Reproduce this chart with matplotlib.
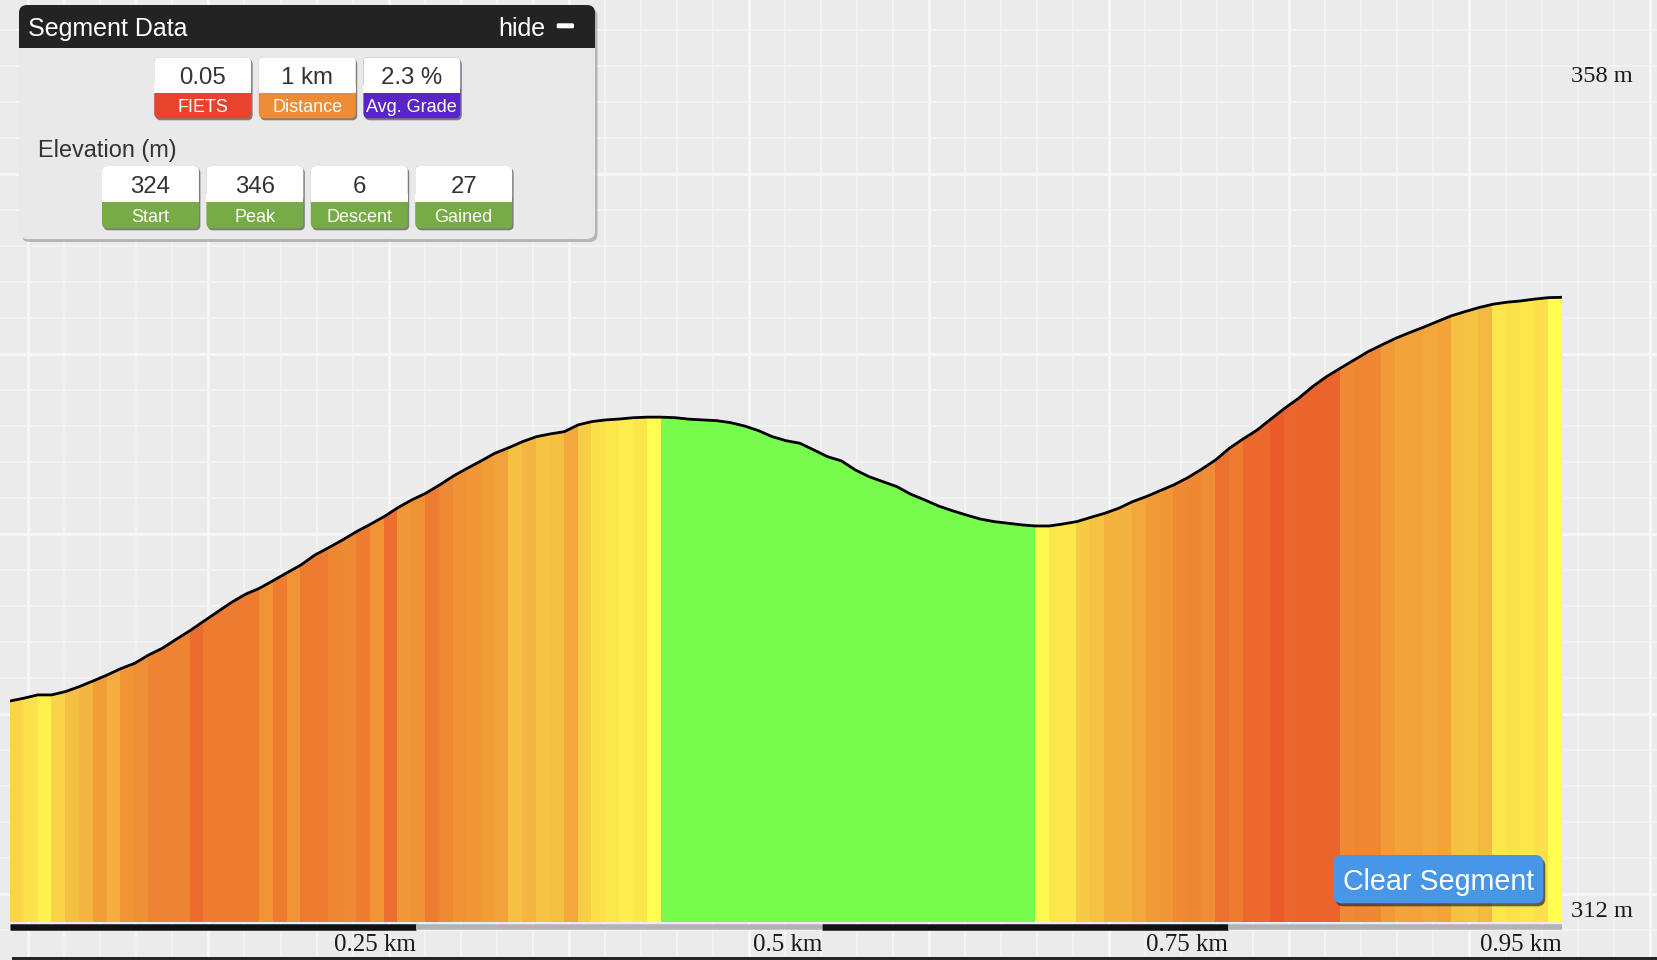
import numpy as np
import matplotlib
matplotlib.use("Agg")
import matplotlib.pyplot as plt
from matplotlib.patches import FancyBboxPatch, Rectangle
from matplotlib.collections import PolyCollection
from matplotlib.colors import LinearSegmentedColormap
from matplotlib.transforms import offset_copy

# ---------------- data ----------------
STEP_KM = 0.00853  # spacing between profile samples

elevation_m = [
    324.04, 324.19, 324.37, 324.37, 324.55, 324.82, 325.13, 325.45, 325.80, 326.09,
    326.54, 326.91, 327.40, 327.87, 328.39, 328.90, 329.41, 329.85, 330.17, 330.59,
    331.02, 331.44, 331.98, 332.38, 332.80, 333.25, 333.65, 334.07, 334.56, 334.98,
    335.34, 335.79, 336.28, 336.70, 337.10, 337.52, 337.82, 338.15, 338.42, 338.57,
    338.69, 339.06, 339.24, 339.33, 339.38, 339.45, 339.48, 339.48, 339.45, 339.37,
    339.33, 339.29, 339.18, 339.00, 338.75, 338.42, 338.20, 338.06, 337.70, 337.33,
    337.10, 336.61, 336.24, 335.97, 335.70, 335.29, 334.98, 334.65, 334.39, 334.16,
    333.94, 333.80, 333.71, 333.62, 333.56, 333.56, 333.67, 333.80, 334.03, 334.25,
    334.52, 334.88, 335.16, 335.48, 335.80, 336.19, 336.65, 337.15, 337.79, 338.30,
    338.78, 339.38, 339.97, 340.51, 341.14, 341.68, 342.14, 342.59, 343.04, 343.41,
    343.77, 344.08, 344.37, 344.68, 344.99, 345.22, 345.44, 345.62, 345.73, 345.80,
    345.90, 345.98, 346.00,
]

# grade (%) of each segment between consecutive samples
grade_pct = [
    1.5, 1.0, 0.5, 1.5, 2.2, 2.5, 3.5, 2.8, 4.0, 4.3,
    5.0, 5.0, 5.0, 6.0, 5.3, 5.3, 5.3, 5.3, 4.0, 5.3,
    4.0, 5.3, 5.3, 4.7, 4.6, 5.3, 4.0, 5.8, 3.8, 4.2,
    5.3, 4.6, 4.1, 3.9, 3.5, 3.3, 2.2, 2.5, 2.0, 2.2,
    3.0, 1.7, 1.1, 0.9, 0.6, 0.9, 0.1,
    -0.4, -0.9, -0.5, -0.5, -1.3, -2.1, -2.9, -3.9, -2.6, -1.6,
    -4.2, -4.3, -2.7, -5.7, -4.3, -3.2, -3.2, -4.8, -3.6, -3.9,
    -3.0, -2.7, -2.6, -1.6, -1.1, -1.1, -0.7,
    0.2, 0.9, 0.9, 1.8, 2.1, 2.6, 2.7, 3.0, 3.7, 3.9,
    4.6, 4.7, 4.4, 5.7, 5.3, 6.2, 6.2, 7.0, 6.3, 6.4,
    6.4, 6.4, 4.6, 4.8, 4.7, 3.7, 3.2, 3.3, 3.0, 3.2,
    2.2, 2.0, 2.4, 0.9, 1.0, 0.9, 1.1, 0.0,
]

x_tick_km = [0.25, 0.5, 0.75, 0.955]
x_tick_labels = ["0.25 km", "0.5 km", "0.75 km", "0.95 km"]
y_range_m = [312, 358]
y_tick_labels = ["312 m", "358 m"]

summary_values = ["0.05", "1 km", "2.3 %"]
summary_labels = ["FIETS", "Distance", "Avg. Grade"]
elev_values = ["324", "346", "6", "27"]
elev_labels = ["Start", "Peak", "Descent", "Gained"]

# ---------------- styles ----------------
summary_colors = ["#e8432d", "#ee8b35", "#5a25c6"]
elev_color = "#77ab46"
grade_colors = ["#ffff50", "#fbe24c", "#f6c444", "#f2a83c",
                "#f09436", "#ee8332", "#ec6b2e", "#ea5a2a"]
DOWNHILL = "#77fb4d"
BG = "#ebebeb"
SANS = ["Liberation Sans", "DejaVu Sans"]
SERIF = ["Liberation Serif", "DejaVu Serif"]
W, H = 1658, 960


def pt(px):
    return px * 0.72


fig = plt.figure(figsize=(W / 100, H / 100), dpi=100, facecolor=BG)

# ---------------- background grid (pixel coords) ----------------
bg = fig.add_axes([0, 0, 1, 1], zorder=0)
bg.set_xlim(0, W)
bg.set_ylim(H, 0)
bg.axis("off")
bg.set_facecolor(BG)
sp = 36.03
for n in range(-1, 47):
    x = 28.3 + sp * n
    major = n % 5 == 0
    bg.axvline(x, color="#f6f6f6" if major else "#f4f4f4",
               lw=pt(3.0 if major else 1.7), zorder=0)
for m in range(-10, 18):
    y = 354 + sp * m
    major = m % 5 == 0
    bg.axhline(y, color="#f6f6f6" if major else "#f4f4f4",
               lw=pt(3.0 if major else 1.7), zorder=0)

# ---------------- elevation chart ----------------
dist = np.arange(len(elevation_m)) * STEP_KM
elev = np.array(elevation_m)
left_px, right_px = 10, 10 + dist[-1] * 1624.5
top_px, bot_px = 76.7, 922.3
ax = fig.add_axes([left_px / W, (H - bot_px) / H,
                   (right_px - left_px) / W, (bot_px - top_px) / H], zorder=1)
ax.set_xlim(0, dist[-1])
ax.set_ylim(*y_range_m)
ax.patch.set_alpha(0)
ax.axis("off")

cmap = LinearSegmentedColormap.from_list(
    "grade", list(zip(np.linspace(0, 1, len(grade_colors)), grade_colors)))
verts, cols = [], []
for i, g in enumerate(grade_pct):
    d0, d1 = dist[i], dist[i + 1]
    verts.append([(d0, y_range_m[0]), (d0, elev[i]), (d1, elev[i + 1]), (d1, y_range_m[0])])
    cols.append(DOWNHILL if g < 0 else cmap(min(g, 7) / 7))
pc = PolyCollection(verts, facecolors=cols, edgecolors="none", antialiased=False)
ax.add_collection(pc)
ax.plot(dist, elev, color="black", lw=2.0, solid_capstyle="butt",
        solid_joinstyle="round", zorder=3)

# scale bar
bar_tr = offset_copy(ax.get_xaxis_transform(), fig=fig, y=-4.9, units="dots")
edges = [0] + x_tick_km[:-1] + [dist[-1]]
for i in range(len(edges) - 1):
    black = i % 2 == 0
    ax.plot([edges[i], edges[i + 1]], [0, 0], transform=bar_tr, clip_on=False,
            color="#111111" if black else "#b3b3b3",
            lw=pt(6.5 if black else 5.5), solid_capstyle="butt", zorder=4)

# x labels
lab_tr = offset_copy(ax.get_xaxis_transform(), fig=fig, y=-28.5, units="dots")
for pos, lab in zip(x_tick_km, x_tick_labels):
    ax.text(pos, 0, lab, transform=lab_tr, ha="right", va="baseline",
            fontsize=pt(25), family=SERIF, color="#1a1a1a", clip_on=False)

# y labels
ytr = ax.get_yaxis_transform()
xr = (1571 - left_px) / (right_px - left_px)
ax.text(xr, y_range_m[1], y_tick_labels[1], transform=ytr, ha="left", va="center",
        fontsize=pt(24.5), family=SERIF, color="#1a1a1a", clip_on=False)
ax.text(xr, y_range_m[0], y_tick_labels[0],
        transform=offset_copy(ytr, fig=fig, y=5.6, units="dots"),
        ha="left", va="baseline", fontsize=pt(24.5), family=SERIF,
        color="#1a1a1a", clip_on=False)

# ---------------- overlay (panel, button) ----------------
ov = fig.add_axes([0, 0, 1, 1], zorder=5)
ov.set_xlim(0, W)
ov.set_ylim(H, 0)
ov.axis("off")
ov.patch.set_alpha(0)


def rbox(x, y, w, h, r, fc, **kw):
    p = FancyBboxPatch((x + r, y + r), w - 2 * r, h - 2 * r,
                       boxstyle=f"round,pad={r},rounding_size={r}",
                       fc=fc, ec="none", **kw)
    ov.add_patch(p)
    return p


# bottom dark strip
ov.add_patch(Rectangle((12, 956.5), W - 12, 5, fc="#262626", ec="none"))

# panel
px0, py0, pw, ph = 19, 5, 576, 234
rbox(px0 + 2.5, py0 + 3, pw, ph, 8, "#8a8a8a", alpha=0.55)
rbox(px0, py0, pw, ph, 8, "#e9e9e9")
rbox(px0, py0, pw, 42.7, 8, "#232323")
ov.add_patch(Rectangle((px0, py0 + 25), pw, 17.7, fc="#232323", ec="none"))
ov.text(28.5, 36, "Segment Data", color="white", fontsize=pt(25), family=SANS,
        ha="left", va="baseline")
ov.text(545, 36, "hide", color="white", fontsize=pt(25), family=SANS,
        ha="right", va="baseline")
rbox(556.7, 23.3, 17.3, 5, 1.5, "white")

ov.text(37.6, 156.5, "Elevation (m)", color="#333333", fontsize=pt(23.5),
        family=SANS, ha="left", va="baseline")


def badge(x, top, split, bottom, val, lab, col):
    w = 96.9
    rbox(x + 1.5, top + 2, w, bottom - top, 5, "#5a5a5a", alpha=0.75)
    rbox(x, top, w, bottom - top, 5, col)
    rbox(x, top, w, split - top, 5, "white")
    ov.add_patch(Rectangle((x, split - 8), w, 8, fc="white", ec="none"))
    ov.text(x + w / 2, split - 8.7, val, color="#333333", fontsize=pt(24),
            family=SANS, ha="center", va="baseline")
    ov.text(x + w / 2, bottom - 6.8, lab, color="white", fontsize=pt(18),
            family=SANS, ha="center", va="baseline")


for i, (v, l, c) in enumerate(zip(summary_values, summary_labels, summary_colors)):
    badge(154.2 + 104.6 * i, 57.3, 92.7, 118.3, v, l, c)
for i, (v, l) in enumerate(zip(elev_values, elev_labels)):
    badge(102 + 104.4 * i, 166, 201.7, 228.3, v, l, elev_color)

# Clear Segment button
rbox(1333.3 + 2, 855 + 3, 210, 48.3, 8, "#2a2a2a", alpha=0.7)
rbox(1333.3, 855, 210, 48.3, 8, "#4896e8")
ov.text(1438.3, 890, "Clear Segment", color="white", fontsize=pt(28.6),
        family=SANS, ha="center", va="baseline")

fig.savefig("out.png", dpi=100, facecolor=fig.get_facecolor())
